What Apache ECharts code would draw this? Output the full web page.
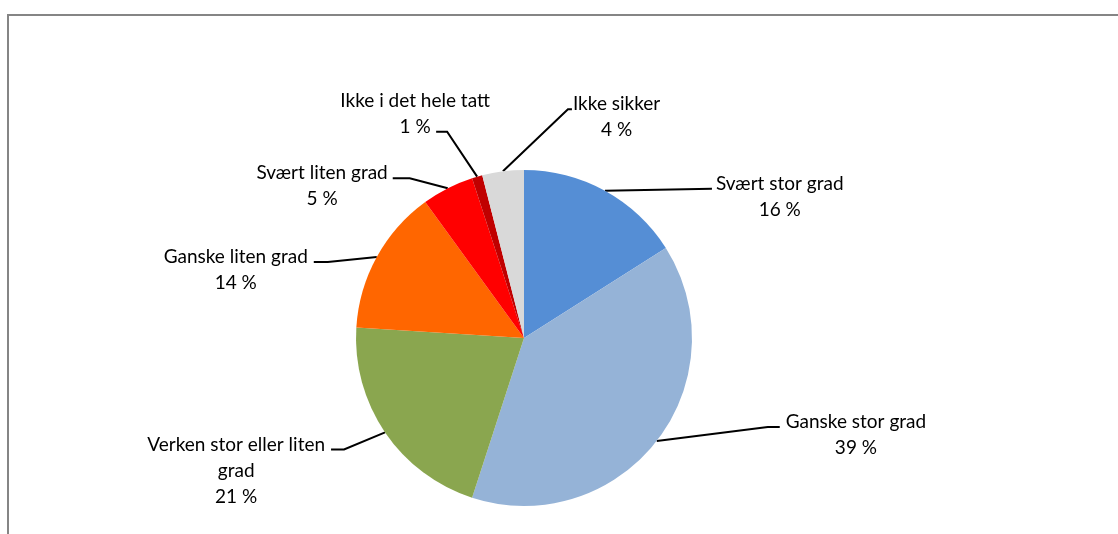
<!DOCTYPE html>
<html>
<head>
<meta charset="utf-8">
<title>Svarfordeling</title>
<script src="https://cdn.jsdelivr.net/npm/echarts@6/dist/echarts.min.js"></script>
<style>
  html, body { margin: 0; padding: 0; background: #ffffff; }
  #chart { width: 1118px; height: 534px; }
</style>
</head>
<body>
<div id="chart"></div>
<script>
// Answer categories, clockwise from 12 o'clock
const categories = [
  'Svært stor grad',
  'Ganske stor grad',
  'Verken stor eller liten grad',
  'Ganske liten grad',
  'Svært liten grad',
  'Ikke i det hele tatt',
  'Ikke sikker'
];
// Share of respondents, percent
const shares = [16, 39, 21, 14, 5, 1, 4];
const sliceColors = ['#558ED5', '#95B3D7', '#8AA64F', '#FF6600', '#FF0000', '#C00000', '#D9D9D9'];

// Pie geometry
const CX = 524, CY = 338, R = 168;
const LINE_H = 26;

// Leader line shape per slice: elbow offset from the arc point, horizontal tail,
// and where the text block sits relative to the end of the line
const leaderLayout = [
  { elbow: [107, -2],  tail: 0,   gap: 4 },
  { elbow: [111, -14], tail: 12,  gap: 6 },
  { elbow: [-41, 17],  tail: -13, gap: 6 },
  { elbow: [-49, 5],   tail: -14, gap: 6 },
  { elbow: [-38, -10], tail: -17, gap: 5 },
  { elbow: [-30, -45], tail: -11, shift: [-21, -31] },
  { elbow: [65, -62],  tail: 4,   gap: 1 }
];

function wrapName(name, maxChars) {
  const words = name.split(' ');
  const lines = [];
  let cur = '';
  words.forEach(w => {
    const next = cur ? cur + ' ' + w : w;
    if (next.length > maxChars && cur) { lines.push(cur); cur = w; }
    else cur = next;
  });
  if (cur) lines.push(cur);
  return lines.join('\n');
}

const total = shares.reduce((a, b) => a + b, 0);
// Mid angle of each slice, measured clockwise from the top
const midAngles = [];
{
  let acc = 0;
  shares.forEach(v => {
    midAngles.push(((acc + v / 2) / total) * Math.PI * 2);
    acc += v;
  });
}

const chart = echarts.init(document.getElementById('chart'), null, { renderer: 'canvas' });

chart.setOption({
  animation: false,
  backgroundColor: '#ffffff',
  graphic: [{
    type: 'rect',
    shape: { x: 8, y: 15, width: 1200, height: 600 },
    style: { fill: 'none', stroke: '#858585', lineWidth: 2 },
    silent: true,
    z: -1
  }],
  series: [{
    type: 'pie',
    center: [CX, CY],
    radius: R,
    startAngle: 90,
    clockwise: true,
    avoidLabelOverlap: false,
    itemStyle: { borderWidth: 0 },
    data: categories.map((name, i) => ({
      name: name,
      value: shares[i],
      itemStyle: { color: sliceColors[i] }
    })),
    label: {
      show: true,
      position: 'outside',
      fontFamily: 'Lato',
      fontSize: 19,
      lineHeight: LINE_H,
      color: '#000000',
      align: 'center',
      formatter: p => wrapName(p.name, 23) + '\n' + p.value + ' %'
    },
    labelLine: {
      show: true,
      length: 10,
      length2: 10,
      lineStyle: { color: '#000000', width: 2 }
    },
    labelLayout: function (params) {
      const i = params.dataIndex;
      const cfg = leaderLayout[i];
      const a = midAngles[i];
      const p0 = [CX + R * Math.sin(a), CY - R * Math.cos(a)];
      const p1 = [p0[0] + cfg.elbow[0], p0[1] + cfg.elbow[1]];
      const p2 = [p1[0] + cfg.tail, p1[1]];
      const w = params.labelRect.width;
      let x, y;
      if (cfg.shift) {
        x = p2[0] + cfg.shift[0];
        y = p2[1] + cfg.shift[1] - LINE_H / 2;
      } else {
        const side = (p2[0] >= p0[0]) ? 1 : -1;
        x = p2[0] + side * (cfg.gap + w / 2);
        y = p2[1] - 5 - LINE_H / 2;
      }
      return {
        x: x,
        y: y,
        align: 'center',
        verticalAlign: 'top',
        labelLinePoints: [p0, p1, p2]
      };
    }
  }]
});
</script>
</body>
</html>
